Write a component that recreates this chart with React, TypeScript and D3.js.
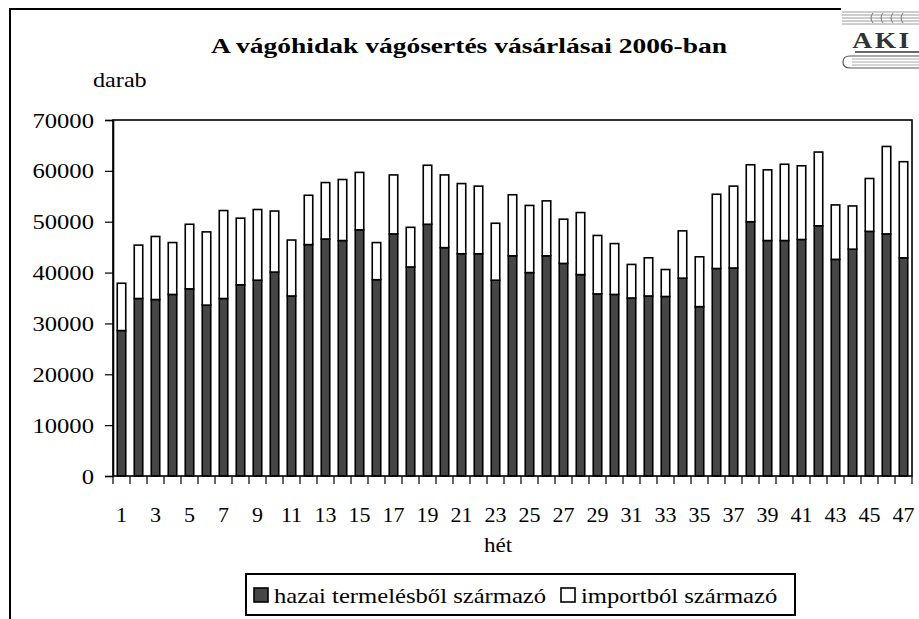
import React, { useEffect, useRef } from "react";
import * as d3 from "d3";

// weeks 1..47
const weeks = d3.range(1, 48).map(String);

// hazai termelésből származó (darab)
const domestic = [
  28600, 34900, 34700, 35700, 36800, 33600, 34900, 37600, 38500, 40100, 35400,
  45500, 46600, 46300, 48400, 38600, 47600, 41100, 49500, 44900, 43700, 43700,
  38500, 43300, 40000, 43300, 41800, 39600, 35800, 35700, 35000, 35400, 35300,
  38900, 33300, 40800, 40900, 50000, 46300, 46300, 46500, 49200, 42600, 44600,
  48100, 47600, 42900,
];

// importból származó (darab)
const imported = [
  9300, 10500, 12400, 10200, 12700, 14400, 17300, 13100, 13900, 12000, 11000,
  9700, 11100, 12000, 11300, 7300, 11600, 7800, 11600, 14300, 13800, 13300,
  11200, 12000, 13200, 10800, 8700, 12200, 11500, 10000, 6600, 7500, 5300, 9300,
  9800, 14600, 16100, 11200, 13900, 15000, 14500, 14500, 10700, 8500, 10400,
  17200, 18900,
];

const yTicks = [0, 10000, 20000, 30000, 40000, 50000, 60000, 70000];
const seriesNames = ["hazai termelésből származó", "importból származó"];
const seriesColors = ["#464646", "#ffffff"];

const FONT = "Liberation Serif, DejaVu Serif, serif";

// text drawn with a slight horizontal stretch, like the original export
function addText(
  parent: any,
  x: number,
  y: number,
  str: string,
  opts: { size?: number; anchor?: string; weight?: string; sx?: number; fill?: string } = {},
) {
  const { size = 22, anchor = "start", weight = "normal", sx = 1, fill = "#000" } = opts;
  return parent
    .append("text")
    .attr("transform", `translate(${x},${y}) scale(${sx},1)`)
    .attr("text-anchor", anchor)
    .attr("font-family", FONT)
    .attr("font-size", size)
    .attr("font-weight", weight)
    .attr("fill", fill)
    .text(str);
}

const App = () => {
  const svgRef = useRef<SVGSVGElement>(null);

  useEffect(() => {
    const svg = d3.select(svgRef.current);
    svg.selectAll("*").remove();

    const plot = { left: 113, right: 912, top: 120, bottom: 476 };

    // outer frame (top + left edges visible)
    svg
      .append("path")
      .attr("d", "M10,619 L10,9 L919,9")
      .attr("fill", "none")
      .attr("stroke", "#000")
      .attr("stroke-width", 2);

    addText(svg, 469, 53, "A vágóhidak vágósertés vásárlásai 2006-ban", {
      size: 22,
      weight: "bold",
      anchor: "middle",
      sx: 1.25,
    });
    addText(svg, 93, 87, "darab", { sx: 1.1 });

    // scales
    const x = d3
      .scaleBand()
      .domain(weeks)
      .range([plot.left, plot.right])
      .paddingInner(0.5)
      .paddingOuter(0.25);

    const y = d3
      .scaleLinear()
      .domain([0, 70000])
      .range([plot.bottom, plot.top]);

    // stacked data
    const rows = weeks.map((w, i) => ({
      week: w,
      hazai: domestic[i],
      import: imported[i],
    }));
    const stack = d3.stack().keys(["hazai", "import"])(rows as any);

    const g = svg.append("g");
    stack.forEach((layer, li) => {
      g.selectAll(`.bar-${li}`)
        .data(layer)
        .enter()
        .append("rect")
        .attr("x", (d: any) => x(d.data.week)!)
        .attr("width", x.bandwidth())
        .attr("y", (d) => y(d[1]))
        .attr("height", (d) => y(d[0]) - y(d[1]))
        .attr("fill", seriesColors[li])
        .attr("stroke", "#000")
        .attr("stroke-width", 1.6);
    });

    // plot border
    svg
      .append("rect")
      .attr("x", plot.left)
      .attr("y", plot.top)
      .attr("width", plot.right - plot.left)
      .attr("height", plot.bottom - plot.top)
      .attr("fill", "none")
      .attr("stroke", "#000")
      .attr("stroke-width", 1.6);

    // y axis
    const yAxis = svg
      .append("g")
      .attr("transform", `translate(${plot.left},0)`)
      .call(
        d3
          .axisLeft(y)
          .tickValues(yTicks)
          .tickSize(8)
          .tickFormat(() => ""),
      );
    yAxis.select(".domain").attr("stroke-width", 1.6);
    yAxis.selectAll("line").attr("stroke-width", 1.2);
    yTicks.forEach((t) => {
      addText(svg, 94, y(t) + 7.5, String(t), { anchor: "end", sx: 1.12 });
    });

    // x axis: ticks between categories, labels on odd weeks
    const bScale = d3
      .scaleLinear()
      .domain([0, weeks.length])
      .range([plot.left, plot.right]);
    const xAxis = svg.append("g");
    xAxis
      .selectAll("line")
      .data(d3.range(weeks.length + 1))
      .enter()
      .append("line")
      .attr("x1", (d) => bScale(d))
      .attr("x2", (d) => bScale(d))
      .attr("y1", plot.bottom)
      .attr("y2", plot.bottom + 8)
      .attr("stroke", "#000")
      .attr("stroke-width", 1.2);

    weeks
      .filter((_, i) => i % 2 === 0)
      .forEach((w) => {
        addText(xAxis, x(w)! + x.bandwidth() / 2, 522, w, { anchor: "middle" });
      });

    addText(svg, 498, 552, "hét", { anchor: "middle", sx: 1.05 });

    // legend
    svg
      .append("rect")
      .attr("x", 246)
      .attr("y", 574)
      .attr("width", 549)
      .attr("height", 41)
      .attr("fill", "#fff")
      .attr("stroke", "#000")
      .attr("stroke-width", 2);

    const legendX = [254, 561];
    seriesNames.forEach((name, i) => {
      svg
        .append("rect")
        .attr("x", legendX[i])
        .attr("y", 588)
        .attr("width", 14)
        .attr("height", 14)
        .attr("fill", seriesColors[i])
        .attr("stroke", "#000")
        .attr("stroke-width", 1.6);
      addText(svg, legendX[i] + 20, 603, name, { sx: 1.12 });
    });

    // AKI logo
    const logo = svg.append("g");
    logo
      .append("rect")
      .attr("x", 841)
      .attr("y", 8)
      .attr("width", 78)
      .attr("height", 62)
      .attr("fill", "#fff");
    d3.range(5).forEach((i) => {
      logo
        .append("line")
        .attr("x1", 842)
        .attr("x2", 919)
        .attr("y1", 12 + i * 3)
        .attr("y2", 12 + i * 3)
        .attr("stroke", "#9a9a9a")
        .attr("stroke-width", 1);
    });
    d3.range(4).forEach((i) => {
      logo
        .append("path")
        .attr("d", `M${873 + i * 10},13 q-4,5 0,10`)
        .attr("fill", "none")
        .attr("stroke", "#777")
        .attr("stroke-width", 1);
    });
    addText(logo, 882, 48, "AKI", {
      size: 23,
      weight: "bold",
      anchor: "middle",
      sx: 1.2,
      fill: "#333",
    }).attr("letter-spacing", 2);
    logo
      .append("line")
      .attr("x1", 855)
      .attr("x2", 919)
      .attr("y1", 52)
      .attr("y2", 52)
      .attr("stroke", "#333")
      .attr("stroke-width", 1.5);
    logo
      .append("path")
      .attr("d", "M919,56 L850,56 Q843,56 843,62 Q843,68 850,68 L919,68")
      .attr("fill", "none")
      .attr("stroke", "#555")
      .attr("stroke-width", 1.2);
    d3.range(3).forEach((i) => {
      logo
        .append("line")
        .attr("x1", 852)
        .attr("x2", 919)
        .attr("y1", 59 + i * 3)
        .attr("y2", 59 + i * 3)
        .attr("stroke", "#aaa")
        .attr("stroke-width", 1);
    });
  }, []);

  return (
    <svg
      ref={svgRef}
      width={919}
      height={619}
      style={{ position: "absolute", left: 0, top: 0, background: "#fff" }}
    />
  );
};

export default App;
